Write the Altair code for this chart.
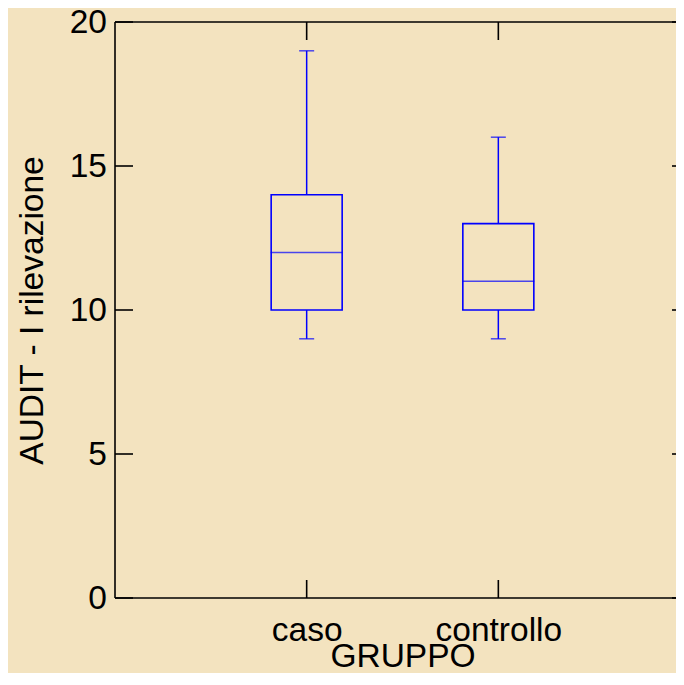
import altair as alt
import pandas as pd

# ---- data ----
groups = ["caso", "controllo"]
mins = [9, 9]
q1s = [10, 10]
medians = [12, 11]
q3s = [14, 13]
maxs = [19, 16]
y_ticks = [0, 5, 10, 15, 20]

df = pd.DataFrame({"GRUPPO": groups, "min": mins, "q1": q1s,
                   "median": medians, "q3": q3s, "max": maxs})
ticks_df = pd.DataFrame({"v": y_ticks})
groups_df = pd.DataFrame({"GRUPPO": groups})
one_df = pd.DataFrame({"k": [0]})

BLUE = "#0000FF"
FONT = "Liberation Sans"
FS = 33.5
FULL_W = 575          # full frame width (right edge lies off the page)
W, H = 561, 576       # visible plot width / height
YTITLE = "AUDIT - I rilevazione"

x_scale = alt.Scale(type="point", domain=groups, padding=0,
                    range=[FULL_W / 3, 2 * FULL_W / 3])
y_scale = alt.Scale(domain=[0, 20], nice=False)

x_axis = alt.Axis(title="GRUPPO", labelAngle=0, ticks=False, domain=False,
                  grid=False, labelPadding=42, labelBaseline="alphabetic",
                  titleX=FULL_W / 2, titleY=68, titleBaseline="alphabetic")
y_axis = alt.Axis(values=y_ticks, title=YTITLE, ticks=False, domain=False,
                  grid=False, labelPadding=8.5, titleX=-73,
                  titleBaseline="alphabetic")


def X():
    return alt.X("GRUPPO:N", scale=x_scale, sort=groups, axis=x_axis)


def Y(field):
    return alt.Y(field, type="quantitative", scale=y_scale, axis=y_axis,
                 title=YTITLE)


base = alt.Chart(df)

whisk_lo = base.mark_rule(color=BLUE, strokeWidth=1.5).encode(
    x=X(), y=Y("min"), y2="q1")
whisk_hi = base.mark_rule(color=BLUE, strokeWidth=1.5).encode(
    x=X(), y=Y("q3"), y2="max")
box = base.mark_bar(fillOpacity=0, stroke=BLUE, strokeWidth=1.6,
                    size=71).encode(x=X(), y=Y("q1"), y2="q3")
median = base.mark_tick(color=BLUE, size=72, thickness=1.5,
                        orient="horizontal").encode(x=X(), y=Y("median"))
caps = base.transform_fold(["min", "max"], as_=["k", "val"]).mark_tick(
    color=BLUE, size=15, thickness=1.5, orient="horizontal").encode(
    x=X(), y=Y("val"))

# frame (left, top, bottom; the right edge falls outside the page)
LW = 1.6
f_left = alt.Chart(one_df).mark_rule(color="black", strokeWidth=LW).encode(
    x=alt.value(0), y=alt.value(0), y2=alt.value(H))
f_top = alt.Chart(one_df).mark_rule(color="black", strokeWidth=LW).encode(
    y=alt.value(0), x=alt.value(0), x2=alt.value(W))
f_bot = alt.Chart(one_df).mark_rule(color="black", strokeWidth=LW).encode(
    y=alt.value(H), x=alt.value(0), x2=alt.value(W))

# inward axis ticks
lt = alt.Chart(ticks_df).mark_rule(color="black", strokeWidth=LW).encode(
    y=Y("v"), x=alt.value(0), x2=alt.value(18))
rt = alt.Chart(ticks_df).mark_rule(color="black", strokeWidth=LW).encode(
    y=Y("v"), x=alt.value(FULL_W - 18), x2=alt.value(W))
tt = alt.Chart(groups_df).mark_rule(color="black", strokeWidth=LW).encode(
    x=X(), y=alt.value(0), y2=alt.value(18))
bt = alt.Chart(groups_df).mark_rule(color="black", strokeWidth=LW).encode(
    x=X(), y=alt.value(H - 18), y2=alt.value(H))

chart = alt.layer(whisk_lo, whisk_hi, box, median, caps,
                  f_left, f_top, f_bot, lt, rt, tt, bt).properties(
    width=W, height=H,
    autosize=alt.AutoSizeParams(type="none"),
    padding={"left": 107, "top": 14, "right": 0, "bottom": 75},
    background="#F3E3BF",
).configure_view(
    strokeWidth=0
).configure_axis(
    labelFont=FONT, titleFont=FONT, labelFontSize=FS, titleFontSize=FS,
    labelColor="black", titleColor="black", titleFontWeight="normal",
)

chart.save("out.html", embed_options={"renderer": "svg", "actions": False})
